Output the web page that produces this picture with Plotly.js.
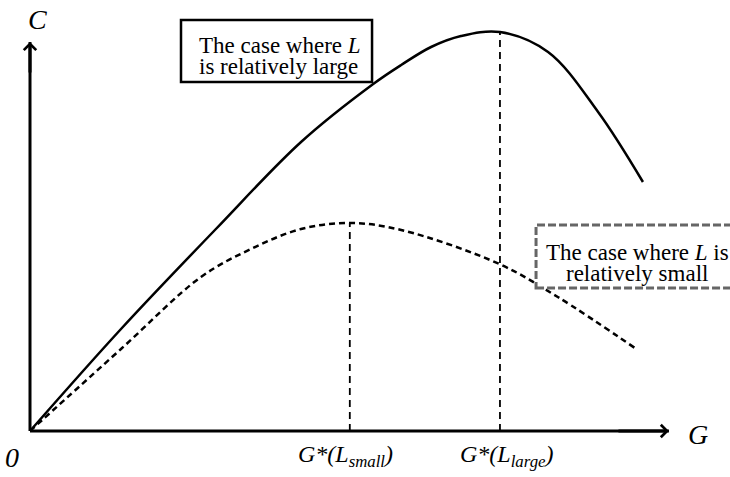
<!DOCTYPE html>
<html>
<head>
<meta charset="utf-8">
<script src="https://cdn.plot.ly/plotly-3.0.1.min.js"></script>
<style>html,body{margin:0;padding:0;background:#fff;}#chart{width:730px;height:477px;}</style>
</head>
<body>
<div id="chart"></div>
<script>
// Curve for relatively large L (solid)
const G_large = [0, 14.0, 28.6, 41.7, 52.8, 57.1, 61.7, 66.3, 72.3, 79.7, 87.4, 94.3];
const C_large = [0, 25.5, 50.5, 72.25, 86.75, 91.5, 96.0, 98.75, 99.75, 94.75, 79.75, 62.25];
// Curve for relatively small L (dashed)
const G_small = [0, 14.0, 26.3, 34.0, 41.7, 49.2, 57.1, 72.2, 81.2, 93.5];
const C_small = [0, 20.5, 38.5, 45.5, 50.5, 52.0, 50.25, 41.75, 33.5, 20.25];
// Tick labels
const tickLabels = ['<i>G*(L<sub>small</sub>)</i>', '<i>G*(L<sub>large</sub>)</i>'];
const boxLarge = ['The case where <i>L</i>', 'is relatively large'];
const boxSmall = ['The case where <i>L</i> is', 'relatively small'];

function peak(G, C) {
  let k = 0;
  for (let i = 1; i < C.length; i++) if (C[i] > C[k]) k = i;
  return [G[k], C[k]];
}
const pS = peak(G_small, C_small);
const pL = peak(G_large, C_large);

const XMAX = 98.3, YMAX = 97.25;
const FONT = '"Liberation Serif", "Times New Roman", Times, serif';
const ln = (x, y, w, dash) => ({x: x, y: y, mode: 'lines', line: {color: '#000', width: w, dash: dash || 'solid', shape: 'spline'}, hoverinfo: 'skip'});

const traces = [
  ln([0, XMAX], [0, 0], 3),
  ln([0, 0], [0, YMAX], 3),
  ln(G_large, C_large, 2.5),
  ln(G_small, C_small, 2.5, '6px,4px'),
  ln([pS[0], pS[0]], [0, pS[1]], 1.8, '7px,5px'),
  ln([pL[0], pL[0]], [0, pL[1]], 1.8, '7px,5px')
];

const txt = (x, y, t, size, anchor) => ({x: x, y: y, xref: 'x', yref: 'y', text: t, showarrow: false,
  xanchor: anchor || 'center', font: {family: FONT, size: size, color: '#000'}});

const layout = {
  width: 730, height: 477,
  margin: {l: 0, r: 0, t: 0, b: 0},
  paper_bgcolor: '#fff', plot_bgcolor: '#fff',
  showlegend: false,
  font: {family: FONT, color: '#000'},
  xaxis: {range: [-4.615, 107.69], visible: false, fixedrange: true},
  yaxis: {range: [-11.5, 107.75], visible: false, fixedrange: true},
  shapes: [
    {type: 'rect', xref: 'x', yref: 'y', x0: 23.23, x1: 52.62, y0: 87.25, y1: 102.75,
     line: {color: '#000', width: 2.5}, fillcolor: '#fff', layer: 'above'},
    {type: 'rect', xref: 'x', yref: 'y', x0: 77.85, x1: 116, y0: 35.75, y1: 51.5,
     line: {color: '#666', width: 3, dash: '8px,3px'}, fillcolor: '#fff', layer: 'above'}
  ],
  annotations: [
    {x: XMAX, y: 0, ax: XMAX - 8, ay: 0, axref: 'x', ayref: 'y', xref: 'x', yref: 'y', text: '',
     showarrow: true, arrowhead: 4, arrowsize: 0.8, arrowwidth: 3, arrowcolor: '#000'},
    {x: 0, y: YMAX, ax: 0, ay: YMAX - 8, axref: 'x', ayref: 'y', xref: 'x', yref: 'y', text: '',
     showarrow: true, arrowhead: 4, arrowsize: 0.8, arrowwidth: 3, arrowcolor: '#000'},
    txt(1.08, 103, '<i>C</i>', 28),
    txt(102.8, -0.9, '<i>G</i>', 28),
    txt(-2.77, -6.5, '<i>0</i>', 28),
    txt(pS[0] - 0.6, -6.2, tickLabels[0], 24),
    txt(pL[0] + 1.0, -6.2, tickLabels[1], 24),
    txt(25.7, 96.5, boxLarge[0], 23, 'left'),
    txt(25.7, 91.25, boxLarge[1], 23, 'left'),
    txt(93.4, 44.75, boxSmall[0], 23),
    txt(93.4, 39.5, boxSmall[1], 23)
  ]
};

Plotly.newPlot('chart', traces, layout, {displayModeBar: false, staticPlot: true});
</script>
</body>
</html>
